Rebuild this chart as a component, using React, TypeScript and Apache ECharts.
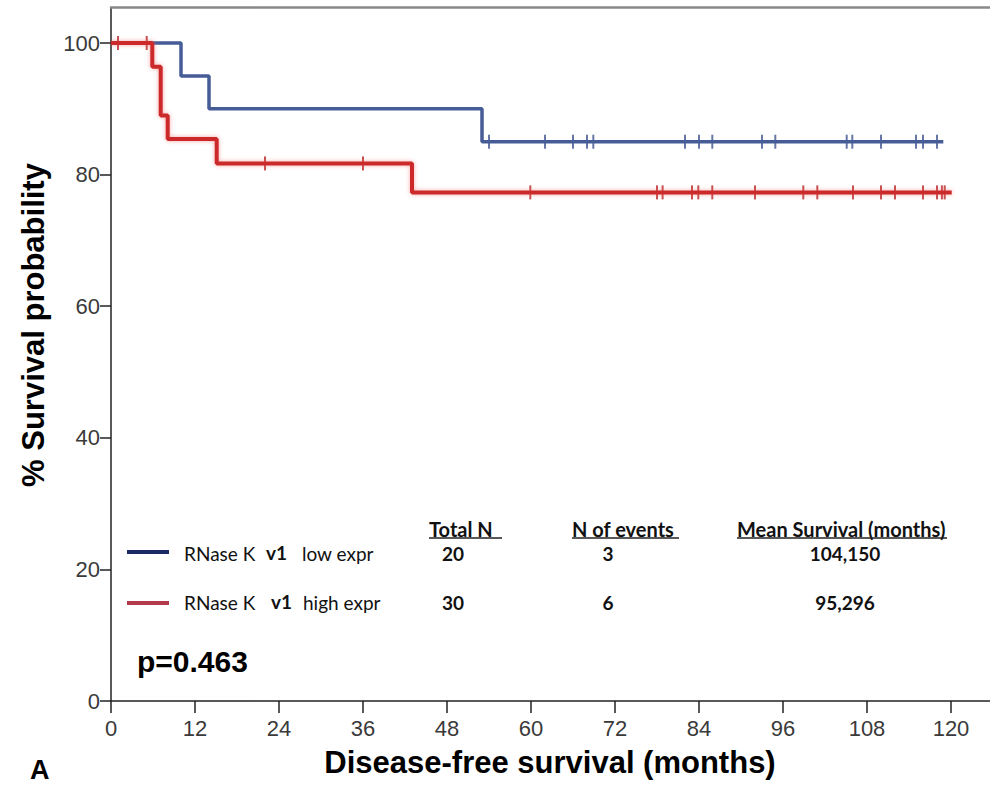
import React, { useEffect, useRef } from "react";
import * as echarts from "echarts";

// ---- data ----
const xTicks = [0, 12, 24, 36, 48, 60, 72, 84, 96, 108, 120];
const yTicks = [0, 20, 40, 60, 80, 100];

const lowTimes = [0, 10, 14, 53, 118.9];
const lowSurv = [100, 95, 90, 85, 85];
const lowCensorTimes = [54, 62, 66, 68, 68.9, 82, 84, 85.9, 93, 94.9, 105.1, 105.9, 110, 115, 116, 118];

const highTimes = [0, 5.9, 7.1, 8.1, 15.1, 43, 120.1];
const highSurv = [100, 96.4, 89.0, 85.4, 81.7, 77.3, 77.3];
const highCensorTimes = [1.0, 5.1, 22, 36, 59.9, 78, 78.8, 83, 83.9, 85.9, 92, 98.9, 100.9, 106, 110, 112, 116, 118, 118.7, 119.1];

const groupNames = ["low expr", "high expr"];
const totalN = ["20", "30"];
const nEvents = ["3", "6"];
const meanSurvival = ["104,150", "95,296"];
const pValue = "p=0.463";

function survAt(times: number[], surv: number[], t: number) {
  let v = surv[0];
  for (let i = 0; i < times.length; i++) if (times[i] <= t) v = surv[i];
  return v;
}

const BLUE = "#465c97";
const RED = "#cc2a2a";

export default function App() {
  const ref = useRef<HTMLDivElement>(null);
  useEffect(() => {
    const chart = echarts.init(ref.current!, undefined, { renderer: "svg" });
    const legendFont = "Lato, 'Open Sans', sans-serif";
    const rowY = [553, 602];
    const graphic: any[] = [
      {
        type: "text", x: 33, y: 325, rotation: Math.PI / 2,
        style: { text: "% Survival probability", font: "bold 31px 'Liberation Sans', Arial, sans-serif", fill: "#000", textAlign: "center", textVerticalAlign: "middle" },
      },
      {
        type: "text", x: 550, y: 762,
        style: { text: "Disease-free survival (months)", font: "bold 31px 'Liberation Sans', Arial, sans-serif", fill: "#000", textAlign: "center", textVerticalAlign: "middle" },
      },
      {
        type: "text", x: 30, y: 770,
        style: { text: "A", font: "bold 27px 'Liberation Sans', Arial, sans-serif", fill: "#000", textAlign: "left", textVerticalAlign: "middle" },
      },
      {
        type: "text", x: 137, y: 661,
        style: { text: pValue, font: "bold 30px 'Liberation Sans', Arial, sans-serif", fill: "#000", textAlign: "left", textVerticalAlign: "middle" },
      },
      // headers
      { type: "text", x: 429, y: 529, style: { text: "Total N", font: `bold 20px ${legendFont}`, fill: "#111", textVerticalAlign: "middle" } },
      { type: "text", x: 572, y: 529, style: { text: "N of events", font: `bold 20px ${legendFont}`, fill: "#111", textVerticalAlign: "middle" } },
      { type: "text", x: 737, y: 529, style: { text: "Mean Survival (months)", font: `bold 20px ${legendFont}`, fill: "#111", textVerticalAlign: "middle" } },
      { type: "line", shape: { x1: 429, y1: 538, x2: 502, y2: 538 }, style: { stroke: "#222", lineWidth: 1.5 } },
      { type: "line", shape: { x1: 572, y1: 538, x2: 679, y2: 538 }, style: { stroke: "#222", lineWidth: 1.5 } },
      { type: "line", shape: { x1: 737, y1: 538, x2: 947, y2: 538 }, style: { stroke: "#222", lineWidth: 1.5 } },
      // legend rows
      { type: "line", shape: { x1: 127, y1: 552, x2: 169, y2: 552 }, style: { stroke: "#1c2a63", lineWidth: 4 } },
      { type: "line", shape: { x1: 127, y1: 603, x2: 169, y2: 603 }, style: { stroke: "#b33a48", lineWidth: 4 } },
    ];
    for (let i = 0; i < 2; i++) {
      const y = rowY[i];
      graphic.push(
        { type: "text", x: 184, y, style: { text: "RNase K", font: `19px ${legendFont}`, fill: "#111", textVerticalAlign: "middle" } },
        { type: "text", x: i === 0 ? 266 : 271, y: y - 1, style: { text: "v1", font: `bold 19px ${legendFont}`, fill: "#111", textVerticalAlign: "middle" } },
        { type: "text", x: i === 0 ? 302 : 303, y, style: { text: groupNames[i], font: `19px ${legendFont}`, fill: "#111", textVerticalAlign: "middle" } },
        { type: "text", x: 453, y, style: { text: totalN[i], font: `bold 19px ${legendFont}`, fill: "#111", textAlign: "center", textVerticalAlign: "middle" } },
        { type: "text", x: 608, y, style: { text: nEvents[i], font: `bold 19px ${legendFont}`, fill: "#111", textAlign: "center", textVerticalAlign: "middle" } },
        { type: "text", x: 845, y, style: { text: meanSurvival[i], font: `bold 19px ${legendFont}`, fill: "#111", textAlign: "center", textVerticalAlign: "middle" } },
      );
    }

    const tickFont = "'Liberation Sans', Arial, sans-serif";
    const xMax = 125.57;
    const yMax = 105.4;
    chart.setOption({
      animation: false,
      backgroundColor: "#fff",
      grid: { left: 111, right: 0, top: 7.5, bottom: 95 },
      xAxis: [
        {
          type: "value", min: 0, max: xMax,
          axisLine: { show: true, lineStyle: { color: "#222", width: 1.5 } },
          axisTick: { show: true, customValues: xTicks, length: 12, lineStyle: { color: "#222", width: 1.5 } },
          axisLabel: { customValues: xTicks, margin: 16, fontFamily: tickFont, fontSize: 22, color: "#3a3a3a" },
          splitLine: { show: false },
        },
        {
          type: "value", min: 0, max: xMax, position: "top",
          axisLine: { show: true, lineStyle: { color: "#888", width: 2.5 } },
          axisTick: { show: false }, axisLabel: { show: false }, splitLine: { show: false },
        },
      ],
      yAxis: {
        type: "value", min: 0, max: yMax,
        axisLine: { show: true, lineStyle: { color: "#222", width: 1.5 } },
        axisTick: { show: true, customValues: yTicks, length: 11, lineStyle: { color: "#222", width: 1.5 } },
        axisLabel: { customValues: yTicks, margin: 11, fontFamily: tickFont, fontSize: 22, color: "#3a3a3a" },
        splitLine: { show: false },
      },
      graphic,
      series: [
        {
          type: "line", step: "end", showSymbol: false,
          data: lowTimes.map((t, i) => [t, lowSurv[i]]),
          lineStyle: { color: BLUE, width: 3.5 },
        },
        {
          type: "scatter", symbol: "rect", symbolSize: [2, 14],
          data: lowCensorTimes.map((t) => [t, survAt(lowTimes, lowSurv, t)]),
          itemStyle: { color: "#3f5590" },
        },
        {
          type: "line", step: "end", showSymbol: false,
          data: highTimes.map((t, i) => [t, highSurv[i]]),
          lineStyle: { color: RED, width: 4, shadowColor: "rgba(240,90,90,0.55)", shadowBlur: 4 },
        },
        {
          type: "scatter", symbol: "rect", symbolSize: [2, 14],
          data: highCensorTimes.map((t) => [t, survAt(highTimes, highSurv, t)]),
          itemStyle: { color: "#b82224" },
        },
      ],
    });
    return () => chart.dispose();
  }, []);
  return <div ref={ref} style={{ position: "fixed", left: 0, top: 0, width: 990, height: 796 }} />;
}
